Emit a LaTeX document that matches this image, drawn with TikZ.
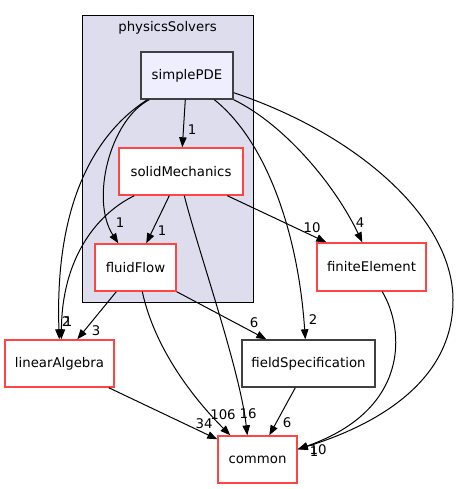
\documentclass[tikz,border=0pt]{standalone}
\usepackage{fontspec}
\setmainfont{DejaVu Sans}
\usetikzlibrary{arrows.meta,calc}
\definecolor{clusterfill}{HTML}{DDDDEE}
\definecolor{redborder}{HTML}{FF4444}
\definecolor{grayborder}{HTML}{404040}
\definecolor{curfill}{HTML}{EEEEFF}
\begin{document}
\begin{tikzpicture}[x=1pt,y=-1pt,
  every node/.style={font=\fontsize{13.3}{15}\selectfont, inner sep=0pt},
  dirbox/.style={draw=redborder, fill=white, line width=1.4pt, minimum height=47pt},
  graybox/.style={draw=grayborder, fill=white, line width=1.4pt, minimum height=47pt},
  curbox/.style={draw=grayborder, fill=curfill, line width=1.4pt, minimum height=47pt},
  dep/.style={draw=black, line width=1pt, -{Triangle[length=10pt,width=7.5pt]}},
  lbl/.style={font=\fontsize{13.3}{15}\selectfont, inner sep=0pt}
]
\useasboundingbox (0,0) rectangle (459,489);
\fill[white] (0,0) rectangle (459,489);
% cluster
\node[draw=black, fill=clusterfill, line width=1pt, minimum width=171pt, minimum height=286pt] (cluster) at (167.5,159) {};
\node (clusterlabel) at (167.5,28) {physicsSolvers};
% nodes
\node[curbox, minimum width=92pt] (sp) at (187,75.5) {simplePDE};
\node[dirbox, minimum width=124pt] (sm) at (181,171.5) {solidMechanics};
\node[dirbox, minimum width=81pt] (ff) at (135.5,267.5) {fluidFlow};
\node[dirbox, minimum width=109pt] (la) at (59.5,363.5) {linearAlgebra};
\node[graybox, minimum width=133pt] (fs) at (308.5,363.5) {fieldSpecification};
\node[dirbox, minimum width=109pt, minimum height=48pt] (fe) at (371.5,267) {finiteElement};
\node[dirbox, minimum width=79pt] (cm) at (257.5,459.5) {common};
% edges
% simplePDE -> solidMechanics
\draw[dep] ($(sp.south west)+(45,0)$) -- ($(sm.north west)+(64,0)$);
\node[lbl] (l1) at (192,130) {1};
% simplePDE -> fluidFlow
\draw[dep] ($(sp.south west)+(9,0)$) .. controls (110,120) and (90,200) .. ($(ff.north west)+(24,0)$);
\node[lbl] (l2) at (120,223) {1};
% simplePDE -> linearAlgebra
\draw[dep] ($(sp.south west)+(7,0)$) .. controls (85,140) and (55,220) .. ($(la.north west)+(55,0)$);
% solidMechanics -> linearAlgebra
\draw[dep] ($(sm.south west)+(16,0)$) .. controls (95,215) and (62,260) .. ($(la.north west)+(57,0)$);
\node[lbl] (l3) at (66,322) {2};
\node[lbl] (l4) at (68,322) {1};
% solidMechanics -> fluidFlow
\draw[dep] ($(sm.south west)+(51,0)$) -- ($(ff.north west)+(52,0)$);
\node[lbl] (l5) at (162,231) {1};
% solidMechanics -> common
\draw[dep] ($(sm.south west)+(66,0)$) .. controls (198,250) and (240,370) .. ($(cm.north west)+(30,0)$);
\node[lbl] (l6) at (248,414) {16};
% solidMechanics -> finiteElement
\draw[dep] ($(sm.south west)+(109,0)$) -- ($(fe.north west)+(10,0)$);
\node[lbl] (l7) at (312,228) {10};
% fluidFlow -> linearAlgebra
\draw[dep] ($(ff.south west)+(22,0)$) -- ($(la.north west)+(73,0)$);
\node[lbl] (l8) at (96,331) {3};
% fluidFlow -> common
\draw[dep] ($(ff.south west)+(48,0)$) .. controls (155,350) and (195,400) .. ($(cm.north west)+(13,0)$);
\node[lbl] (l9) at (223,415) {106};
% fluidFlow -> fieldSpecification
\draw[dep] ($(ff.south east)+(0,0)$) -- ($(fs.north west)+(25,0)$);
\node[lbl] (l10) at (254,323) {6};
% simplePDE -> fieldSpecification
\draw[dep] ($(sp.south west)+(74,0)$) .. controls (265,140) and (298,230) .. ($(fs.north west)+(64,0)$);
\node[lbl] (l11) at (313,320) {2};
% simplePDE -> finiteElement
\draw[dep] ($(sp.south east)+(0,0)$) .. controls (285,125) and (335,185) .. ($(fe.north west)+(46,0)$);
\node[lbl] (l12) at (360,223) {4};
% simplePDE -> common
\coordinate (farright) at (453,300);
\draw[dep] ($(sp.south east)+(0,-7)$) .. controls (360,135) and (453,220) .. (farright) .. controls (453,390) and (360,430) .. ($(cm.north east)+(0,14)$);
% finiteElement -> common
\draw[dep] ($(fe.south west)+(66,0)$) .. controls (405,330) and (410,410) .. ($(cm.north east)+(0,14)$);
\node[lbl] (l13) at (318,450) {10};
\node[lbl] (l14) at (314,452) {1};
% linearAlgebra -> common
\draw[dep] ($(la.south east)+(-6,0)$) -- ($(cm.north west)+(0,4)$);
\node[lbl] (l15) at (204,424) {34};
% fieldSpecification -> common
\draw[dep] ($(fs.south west)+(54,0)$) -- ($(cm.north west)+(52,0)$);
\node[lbl] (l16) at (287,423) {6};
\end{tikzpicture}
\end{document}
